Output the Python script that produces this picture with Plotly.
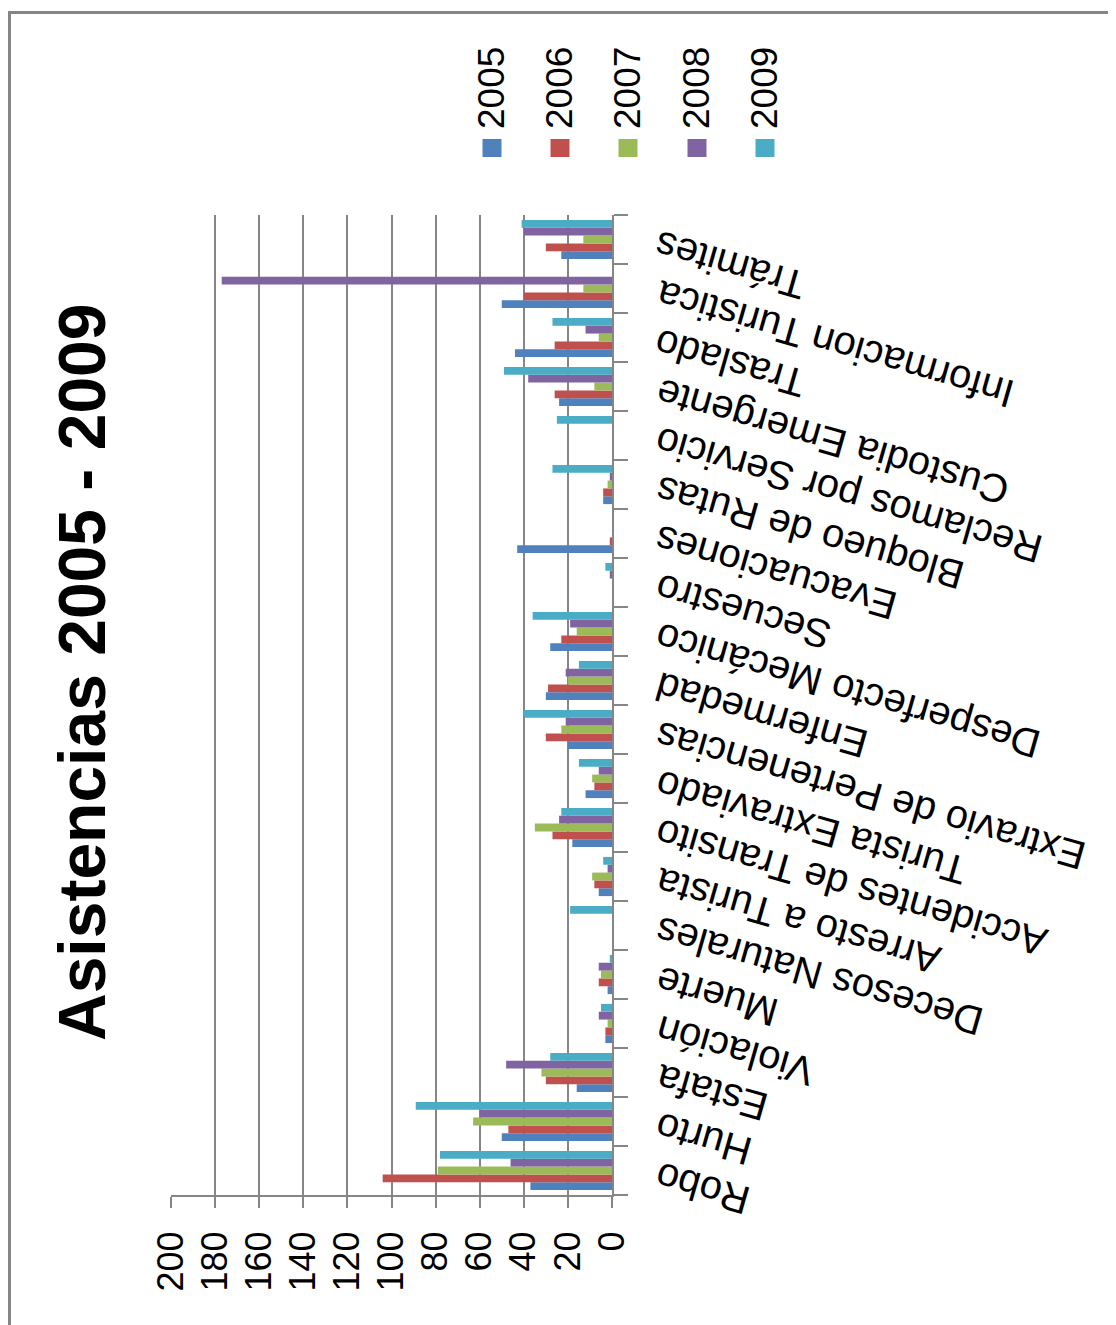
import plotly.graph_objects as go

categories = ["Robo", "Hurto", "Estafa", "Violación", "Muerte", "Decesos Naturales",
              "Arresto a Turista", "Accidentes de Transito", "Turista Extraviado",
              "Extravio de Pertenencias", "Enfermedad", "Desperfecto Mecánico",
              "Secuestro", "Evacuaciones", "Bloqueo de Rutas", "Reclamos por Servicio",
              "Custodia Emergente", "Traslado", "Informacion Turistica", "Trámites"]

years = ["2005", "2006", "2007", "2008", "2009"]
v2005 = [37, 50, 16, 3, 2, 0, 6, 18, 12, 20, 30, 28, 0, 43, 4, 0, 24, 44, 50, 23]
v2006 = [104, 47, 30, 3, 6, 0, 8, 27, 8, 30, 29, 23, 0, 1, 4, 0, 26, 26, 40, 30]
v2007 = [79, 63, 32, 2, 5, 0, 9, 35, 9, 23, 20, 16, 0, 0, 2, 0, 8, 6, 13, 13]
v2008 = [46, 60, 48, 6, 6, 0, 2, 24, 6, 21, 21, 19, 1, 0, 1, 0, 38, 12, 177, 40]
v2009 = [78, 89, 28, 5, 1, 19, 4, 23, 15, 40, 15, 36, 3, 0, 27, 25, 49, 27, 0, 41]
series = [v2005, v2006, v2007, v2008, v2009]
colors = ["#4F81BD", "#C0504D", "#9BBB59", "#8064A2", "#4BACC6"]

title_text = "Asistencias 2005 - 2009"
value_ticks = [0, 20, 40, 60, 80, 100, 120, 140, 160, 180, 200]

FONT = "Liberation Sans, Arial, sans-serif"
GRAY = "#868686"
OFF = 8  # page body margin
W, H = 1116 - OFF, 1325 - OFF
L, R, T, B = 171, 612, 215, 1195  # plot area in screen pixels


def px(xp):
    return (xp - L) / (R - L)


def py(yp):
    return (B - yp) / (B - T)


fig = go.Figure()
for name, vals, col in zip(years, series, colors):
    fig.add_trace(go.Bar(x=vals, y=categories, orientation="h", name=name,
                         marker=dict(color=col, line=dict(width=0)),
                         showlegend=False))

annotations = []
for c in categories:
    annotations.append(dict(x=px(648), xref="paper", y=c, yref="y", text=c,
                            textangle=-164, xanchor="left", yanchor="top",
                            yshift=19, showarrow=False,
                            font=dict(family=FONT, size=40, color="#000000")))
annotations.append(dict(x=px(82), xref="paper", y=py(672), yref="paper",
                        text="<b>" + title_text + "</b>", textangle=-90,
                        xanchor="center", yanchor="middle", showarrow=False,
                        font=dict(family=FONT, size=66, color="#000000")))
shapes = []
leg_x = [492, 560, 628, 697, 765]
for name, col, lx in zip(years, colors, leg_x):
    annotations.append(dict(x=px(lx), xref="paper", y=py(88), yref="paper",
                            text=name, textangle=-90, xanchor="center",
                            yanchor="middle", showarrow=False,
                            font=dict(family=FONT, size=37, color="#000000")))
    shapes.append(dict(type="rect", xref="paper", yref="paper",
                       x0=px(lx - 9.5), x1=px(lx + 9.5), y0=py(157), y1=py(139),
                       fillcolor=col, line=dict(width=0)))
shapes.append(dict(type="line", xref="paper", yref="paper", x0=px(9), x1=px(9),
                   y0=py(11), y1=py(1340), line=dict(color=GRAY, width=4)))
shapes.append(dict(type="line", xref="paper", yref="paper", x0=px(7), x1=px(1130),
                   y0=py(12.5), y1=py(12.5), line=dict(color=GRAY, width=3)))

fig.update_layout(
    width=W, height=H,
    margin=dict(l=L - OFF, r=W - (R - OFF), t=T - OFF, b=H - (B - OFF), pad=0),
    paper_bgcolor="white", plot_bgcolor="white",
    barmode="group", bargap=0.2, bargroupgap=0,
    annotations=annotations, shapes=shapes,
    font=dict(family=FONT, color="#000000"),
)
fig.update_xaxes(range=[200, 0], tickvals=value_ticks, ticktext=[str(v) for v in value_ticks],
                 showgrid=True, gridcolor=GRAY, gridwidth=2,
                 showline=True, linecolor=GRAY, linewidth=2,
                 ticks="outside", ticklen=11, tickwidth=2, tickcolor=GRAY,
                 tickangle=-90, tickfont=dict(family=FONT, size=36, color="#000000"),
                 ticklabelstandoff=9,
                 zeroline=False, fixedrange=True, automargin=False)
fig.update_yaxes(categoryorder="array", categoryarray=categories, side="right",
                 range=[-0.5, len(categories) - 0.5], autorange=False,
                 showline=True, linecolor=GRAY, linewidth=2,
                 ticks="outside", tickson="boundaries", ticklen=14, tickwidth=2,
                 tickcolor=GRAY, showticklabels=False, showgrid=False,
                 zeroline=False, fixedrange=True, automargin=False)

fig.write_html("out.html", config={"displayModeBar": False})
